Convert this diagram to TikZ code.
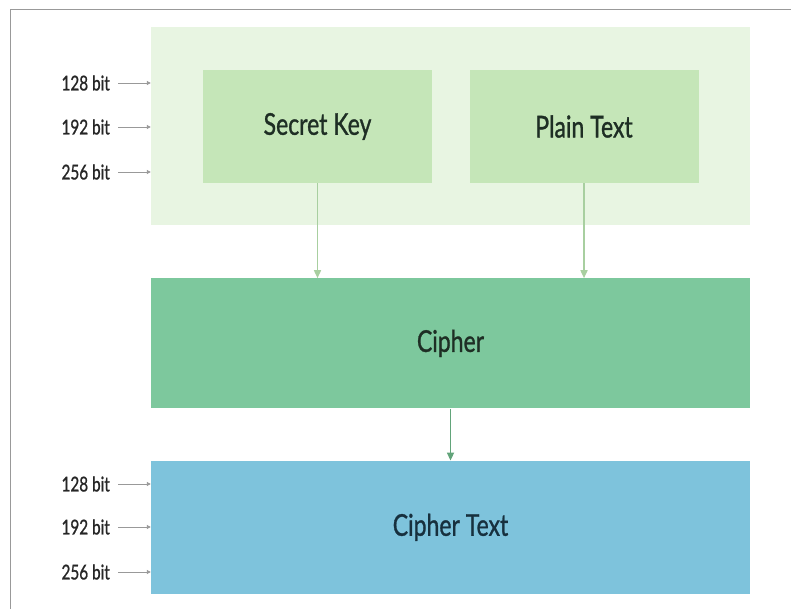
\documentclass[tikz,border=0pt]{standalone}
\usepackage{fontspec}
\setmainfont{Lato}
\newfontfamily\boxfont[FakeBold=1.2]{Lato}
\usepackage{tikz}
\usetikzlibrary{arrows.meta, positioning, calc}
\definecolor{zone}{HTML}{E8F5E2}
\definecolor{keygreen}{HTML}{C5E6B8}
\definecolor{ciphergreen}{HTML}{7DC89D}
\definecolor{cipherblue}{HTML}{7EC3DC}
\definecolor{inktext}{HTML}{1E2E24}
\definecolor{inkblue}{HTML}{17303E}
\definecolor{arrowlight}{HTML}{A8CFA0}
\definecolor{arrowdark}{HTML}{62A47A}
\tikzset{every node/.append style={align=center, inner sep=0pt}}

\begin{document}
\begin{tikzpicture}[
    x=1pt, y=-1pt, font=\boxfont\fontsize{25}{30}\selectfont,
    zonebox/.style={rectangle, fill=zone, minimum width=599pt, minimum height=198pt},
    inbox/.style={rectangle, fill=keygreen, text=inktext,
        minimum width=229pt, minimum height=113pt},
    widebox/.style={rectangle, minimum width=599pt, text=inktext},
    bitlbl/.style={anchor=east, font=\boxfont\fontsize{17}{20}\selectfont, text=black!85},
    a/.style={-{Triangle[length=8pt, width=7pt]}, line width=1.6pt, arrowlight},
    ab/.style={-{Triangle[length=4pt, width=4pt]}, line width=0.9pt, gray!80}
]
\useasboundingbox (0,0) rectangle (791,609);
\draw[gray!80, line width=1pt] (10,609) -- (10,10) -- (791,10);

\node[zonebox] (zone) at (450.5,126) {};
\node[inbox] (key) at (317.5,126.5) {\scalebox{0.92}[1.2]{Secret Key}};
\node[inbox] (plain) at (584,126.5) {\scalebox{0.92}[1.2]{Plain Text}};
\node[widebox, fill=ciphergreen, minimum height=130pt, below=53pt of zone] (cipher) {\scalebox{0.92}[1.2]{Cipher}};
\node[widebox, fill=cipherblue, text=inkblue, minimum height=133pt, below=52pt of cipher] (ctext) {\scalebox{0.92}[1.2]{Cipher Text}};

% key sizes
\node[bitlbl] (k1) at (110,83) {\scalebox{0.9}[1.2]{128 bit}};
\node[bitlbl] (k2) at (110,127) {\scalebox{0.9}[1.2]{192 bit}};
\node[bitlbl] (k3) at (110,172) {\scalebox{0.9}[1.2]{256 bit}};
\node[bitlbl] (c1) at (110,484) {\scalebox{0.9}[1.2]{128 bit}};
\node[bitlbl] (c2) at (110,527) {\scalebox{0.9}[1.2]{192 bit}};
\node[bitlbl] (c3) at (110,572) {\scalebox{0.9}[1.2]{256 bit}};
\foreach \n in {k1,k2,k3}
  \draw[ab] ([xshift=8pt]\n.east) -- (\n.east -| zone.west);
\foreach \n in {c1,c2,c3}
  \draw[ab] ([xshift=8pt]\n.east) -- (\n.east -| ctext.west);

\draw[a] (key.south) -- (key.south |- cipher.north);
\draw[a] (plain.south) -- (plain.south |- cipher.north);
\draw[a, arrowdark] (cipher.south) -- (ctext.north);
\end{tikzpicture}
\end{document}
